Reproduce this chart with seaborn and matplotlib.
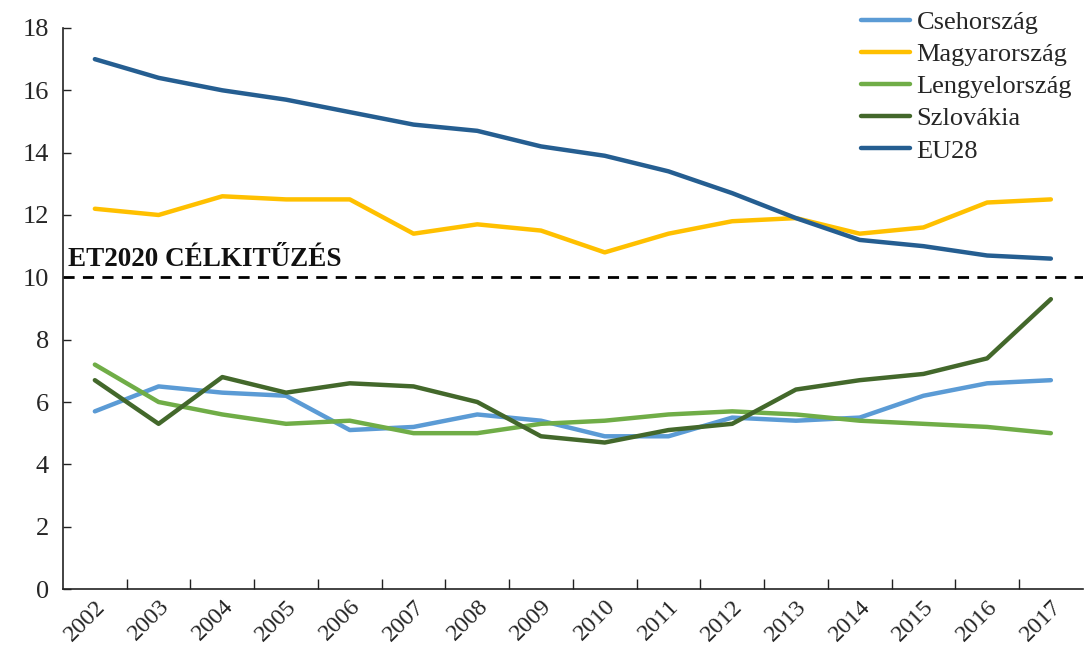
import matplotlib
matplotlib.use("Agg")
import matplotlib.pyplot as plt
import seaborn as sns
import pandas as pd
import numpy as np

years = [str(y) for y in range(2002, 2018)]
cseh = [5.7, 6.5, 6.3, 6.2, 5.1, 5.2, 5.6, 5.4, 4.9, 4.9, 5.5, 5.4, 5.5, 6.2, 6.6, 6.7]
magyar = [12.2, 12.0, 12.6, 12.5, 12.5, 11.4, 11.7, 11.5, 10.8, 11.4, 11.8, 11.9, 11.4, 11.6, 12.4, 12.5]
lengyel = [7.2, 6.0, 5.6, 5.3, 5.4, 5.0, 5.0, 5.3, 5.4, 5.6, 5.7, 5.6, 5.4, 5.3, 5.2, 5.0]
szlovak = [6.7, 5.3, 6.8, 6.3, 6.6, 6.5, 6.0, 4.9, 4.7, 5.1, 5.3, 6.4, 6.7, 6.9, 7.4, 9.3]
eu28 = [17.0, 16.4, 16.0, 15.7, 15.3, 14.9, 14.7, 14.2, 13.9, 13.4, 12.7, 11.9, 11.2, 11.0, 10.7, 10.6]
series_names = ["Csehország", "Magyarország", "Lengyelország", "Szlovákia", "EU28"]
colors = ["#5B9BD5", "#FFC000", "#70AD47", "#43682B", "#255E91"]
target = 10
target_label = "ET2020 CÉLKITŰZÉS"
yticks = list(range(0, 19, 2))

sns.set_theme(style="white")
plt.rcParams["font.family"] = ["Liberation Serif", "DejaVu Serif"]

rows = []
for name, vals in zip(series_names, [cseh, magyar, lengyel, szlovak, eu28]):
    for i, v in enumerate(vals):
        rows.append({"pos": i, "year": years[i], "value": v, "series": name})
df = pd.DataFrame(rows)

fig = plt.figure(figsize=(10.86, 6.52), dpi=100)
ax = fig.add_axes([0.058, 0.0966, 0.939, 0.8605])

sns.lineplot(data=df, x="pos", y="value", hue="series", hue_order=series_names,
             palette=colors, linewidth=3.2, ax=ax, legend=True, sort=False)

ax.axhline(target, color="black", linestyle=(0, (4, 3)), linewidth=2.0, zorder=1)
ax.text(-0.42, target + 0.17, target_label, fontsize=19.5, fontweight="bold",
        ha="left", va="bottom", color="#111111")

ax.set_xlim(-0.5, len(years) - 0.5)
ax.set_ylim(0, 18)
ax.set_yticks(yticks)
ax.set_yticklabels([str(t) for t in yticks], fontsize=19)
ax.set_xticks(range(len(years)))
ax.set_xticklabels(years, rotation=45, ha="right", rotation_mode="anchor", fontsize=17.5)
ax.set_xticks(np.arange(0.5, len(years) - 0.5, 1), minor=True)
ax.tick_params(axis="x", which="major", length=0, pad=5)
ax.tick_params(axis="x", which="minor", direction="in", length=7, width=1, color="#222222", bottom=True)
ax.tick_params(axis="y", which="major", direction="in", length=6, width=1, color="#222222", left=True, pad=10)
ax.set_xlabel("")
ax.set_ylabel("")

for s in ["top", "right"]:
    ax.spines[s].set_visible(False)
for s in ["left", "bottom"]:
    ax.spines[s].set_color("#222222")
    ax.spines[s].set_linewidth(1.2)

leg = ax.legend(loc="upper right", bbox_to_anchor=(1.0, 1.05), frameon=False, fontsize=19,
                handlelength=1.85, handletextpad=0.25, labelspacing=0.33, borderaxespad=0.0)
for line in leg.get_lines():
    line.set_linewidth(3.2)

fig.savefig("out.png", dpi=100)
